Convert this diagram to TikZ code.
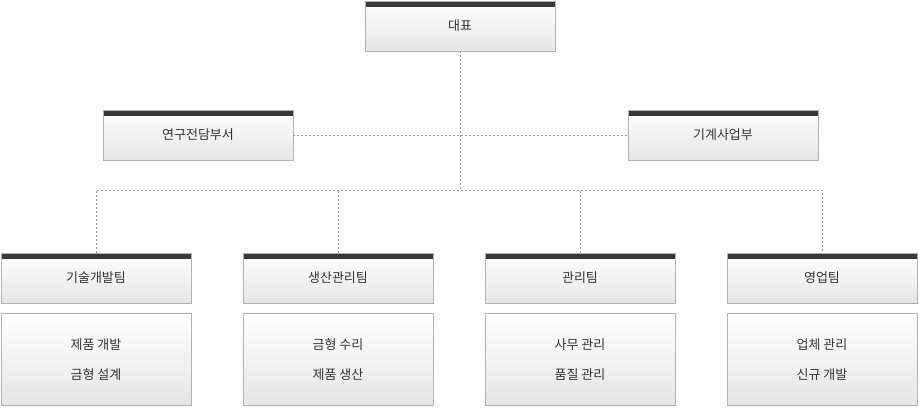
\documentclass[tikz,border=0pt]{standalone}
\usepackage{fontspec}
\newfontfamily\kr{Noto Sans CJK KR}
\usetikzlibrary{positioning}

\begin{document}
\begin{tikzpicture}[x=1pt,y=-1pt]
      \tikzstyle{unit} = [draw=black!30, line width=0.8pt, minimum width=190pt, minimum height=50pt,
        top color=white, bottom color=black!10, inner sep=0pt, font=\kr\fontsize{13}{14}\selectfont, text=black!80,
        path picture={\fill[black!78] (path picture bounding box.north west) rectangle ([yshift=-6pt]path picture bounding box.north east);}]
      \tikzstyle{task} = [draw=black!30, line width=0.8pt, minimum width=190pt, minimum height=92pt,
        top color=white, bottom color=black!10, align=center, font=\kr\fontsize{13}{30}\selectfont, text=black!80]
      \tikzstyle{link} = [draw=black!40, dashed, dash pattern=on 2pt off 2pt, line width=0.6pt]

      \useasboundingbox (0,0) rectangle (919,408);

      \node[unit] (ceo) at (460,26) {\raisebox{-3pt}{대표}};
      \node[unit] (lab) at (198,135) {\raisebox{-3pt}{연구전담부서}};
      \node[unit] (biz) at (723,135) {\raisebox{-3pt}{기계사업부}};

      \node[unit] (t1) at (96,278) {\raisebox{-3pt}{기술개발팀}};
      \node[unit] (t2) at (338,278) {\raisebox{-3pt}{생산관리팀}};
      \node[unit] (t3) at (580,278) {\raisebox{-3pt}{관리팀}};
      \node[unit] (t4) at (822,278) {\raisebox{-3pt}{영업팀}};

      \node[task, below=10pt of t1] (d1) {제품 개발\\금형 설계};
      \node[task, below=10pt of t2] (d2) {금형 수리\\제품 생산};
      \node[task, below=10pt of t3] (d3) {사무 관리\\품질 관리};
      \node[task, below=10pt of t4] (d4) {업체 관리\\신규 개발};

      \coordinate (hub) at (460,190);

      \path[link]
      (ceo.south) -- (hub)
      (lab.east) -- (biz.west)
      (t1.north) |- (hub) -| (t4.north)
      (t2.north) -- (t2.north |- hub)
      (t3.north) -- (t3.north |- hub)
      ;
\end{tikzpicture}
\end{document}
